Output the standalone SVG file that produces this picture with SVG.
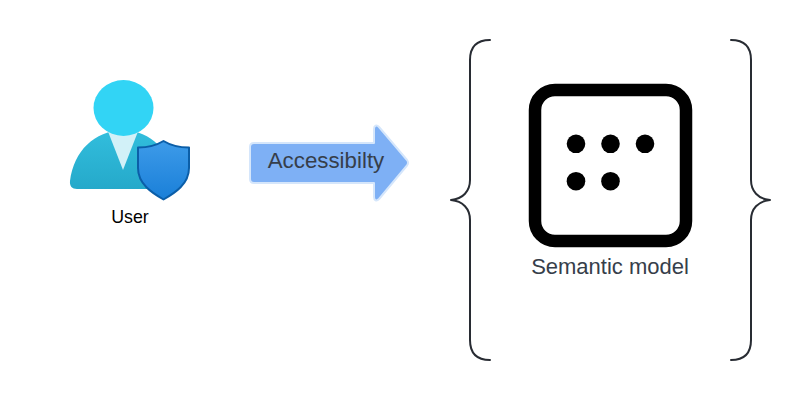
<svg xmlns="http://www.w3.org/2000/svg" width="810" height="400" viewBox="0 0 810 400">
<style>
text{font-family:"Liberation Sans",Arial,sans-serif}
.brace{fill:none;stroke:#282c33;stroke-width:2;stroke-linecap:round;stroke-linejoin:round}
.lbl{fill:#363e4a;text-anchor:middle}
</style>
<defs>
<linearGradient id="body" x1="0" y1="0" x2="0" y2="1"><stop offset="0" stop-color="#32bedd"/><stop offset="1" stop-color="#25a9ca"/></linearGradient>
<linearGradient id="shield" x1="0" y1="0" x2="0" y2="1"><stop offset="0" stop-color="#3d9be9"/><stop offset="1" stop-color="#1a7fd8"/></linearGradient>
</defs>
<rect width="810" height="400" fill="#fff"/>
<g id="user">
<path d="M77 189C72 189 69.500 186 70 181C74 151 94 131 123 130C152 131 170 151 175 181C176 186 174 189 169 189Z" fill="url(#body)"/>
<path d="M108 131.500L138 131.500L123 170Z" fill="#d2f1f8"/>
<ellipse cx="123.500" cy="108" rx="30" ry="28" fill="#32d4f5"/>
<path d="M163.500 141C170 145 179 147.500 189 147.500V168C189 184 175 193 163.500 199.500C152 193 138 184 138 168V147.500C148 147.500 157 145 163.500 141Z" fill="url(#shield)" stroke="#0b5ea8" stroke-width="2" stroke-linejoin="round"/>
<text x="130" y="223" font-size="17.800" fill="#000" text-anchor="middle">User</text>
</g>
<g id="accessibility">
<path d="M254 143H374V129C374 125.500 376.500 124.500 379 127L407 160C408.500 162 408.500 163.500 407 165.500L379 199C376.500 201.500 374 200.500 374 197V183H254C251.500 183 250 181.500 250 179V147C250 144.500 251.500 143 254 143Z" fill="#7eb0f5" stroke="#d5e6fb" stroke-width="2" stroke-linejoin="round"/>
<text x="326" y="168" font-size="22.300" class="lbl">Accessibilty</text>
</g>
<g id="semantic-model">
<rect x="535" y="90" width="151" height="151" rx="20" ry="20" fill="#fff" stroke="#000" stroke-width="12.500"/>
<g fill="#000">
<circle cx="576" cy="143.800" r="9.300"/><circle cx="610.500" cy="143.800" r="9.300"/><circle cx="645" cy="143.800" r="9.300"/>
<circle cx="576" cy="181.200" r="9.300"/><circle cx="610.500" cy="181.200" r="9.300"/>
</g>
<text x="610" y="274" font-size="22" class="lbl">Semantic model</text>
</g>
<g id="connectors">
<path class="brace" d="M490 40C477 40 470 47 470 60V180C470 191 463 199 451 200C463 201 470 209 470 220V340C470 353 477 360 490 360"/>
<path class="brace" d="M731 40C744 40 751 47 751 60V180C751 191 758 199 770 200C758 201 751 209 751 220V340C751 353 744 360 731 360"/>
</g>
</svg>
